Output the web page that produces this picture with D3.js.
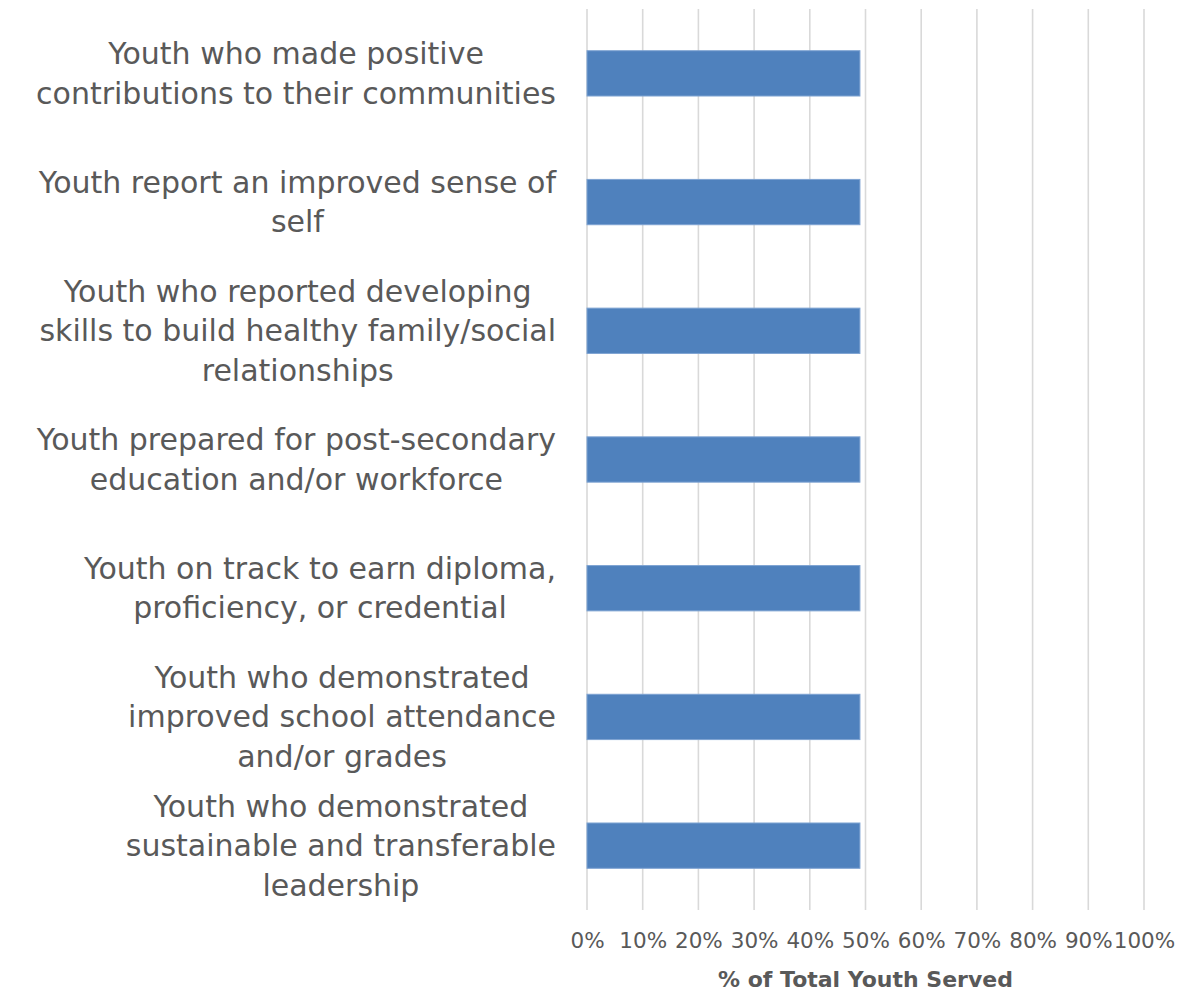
<!DOCTYPE html>
<html>
<head>
<meta charset="utf-8">
<script src="https://cdn.jsdelivr.net/npm/d3@7"></script>
<style>
  html, body { margin: 0; padding: 0; background: #fff; }
  svg { display: block; }
</style>
</head>
<body>
<svg id="chart" width="1180" height="994"></svg>
<script>
// Outcome categories (top to bottom), each pre-wrapped into display lines
const categories = [
  ["Youth who made positive", "contributions to their communities"],
  ["Youth report an improved sense of", "self"],
  ["Youth who reported developing", "skills to build healthy family/social", "relationships"],
  ["Youth prepared for post-secondary", "education and/or workforce"],
  ["Youth on track to earn diploma,", "proficiency, or credential"],
  ["Youth who demonstrated", "improved school attendance", "and/or grades"],
  ["Youth who demonstrated", "sustainable and transferable", "leadership"]
];
// Share of total youth served for each outcome
const values = [0.49, 0.49, 0.49, 0.49, 0.49, 0.49, 0.49];
const tickValues = [0, 0.1, 0.2, 0.3, 0.4, 0.5, 0.6, 0.7, 0.8, 0.9, 1.0];
const axisTitle = "% of Total Youth Served";

const FONT = "'Century Gothic', 'DejaVu Sans', sans-serif";
const TEXT = "#595959";

const svg = d3.select("#chart");
const plot = { left: 587, right: 1144, top: 9, bottom: 910 };

const x = d3.scaleLinear().domain([0, 1]).range([plot.left, plot.right]);
const y = d3.scaleBand()
  .domain(d3.range(categories.length))
  .range([plot.top, plot.bottom])
  .paddingInner(0.648)
  .paddingOuter(0.324);

// Vertical gridlines
svg.append("g")
  .selectAll("line")
  .data(tickValues)
  .join("line")
  .attr("x1", d => x(d)).attr("x2", d => x(d))
  .attr("y1", plot.top).attr("y2", plot.bottom)
  .attr("stroke", "#d9d9d9")
  .attr("stroke-width", 1.6);

// Bars
svg.append("g")
  .selectAll("rect")
  .data(values)
  .join("rect")
  .attr("x", x(0))
  .attr("y", (d, i) => y(i))
  .attr("width", d => x(d) - x(0))
  .attr("height", y.bandwidth())
  .attr("fill", "#4f81bd")
  .attr("stroke", "#7ea3d2")
  .attr("stroke-width", 1);

// X axis tick labels
const xAxis = d3.axisBottom(x)
  .tickValues(tickValues)
  .tickFormat(d3.format(".0%"))
  .tickSize(0)
  .tickPadding(0);
const gx = svg.append("g")
  .attr("transform", `translate(0, 948)`)
  .call(xAxis);
gx.select(".domain").remove();
gx.selectAll("text")
  .attr("y", 0)
  .attr("dy", 0)
  .attr("font-family", FONT)
  .attr("font-size", 21.5)
  .attr("fill", TEXT);

// Axis title
svg.append("text")
  .attr("x", (plot.left + plot.right) / 2)
  .attr("y", 987)
  .attr("text-anchor", "middle")
  .attr("font-family", FONT)
  .attr("font-size", 22)
  .attr("font-weight", "bold")
  .attr("fill", TEXT)
  .text(axisTitle);

// Category labels: each block is centred, with its widest line ending at the label edge
const labelRight = 556;
const lineH = 39.5;
const labels = svg.append("g");
categories.forEach((lines, i) => {
  const cy = y(i) + y.bandwidth() / 2;
  const g = labels.append("g");
  const texts = lines.map((s, k) => g.append("text")
    .attr("y", cy + (k - (lines.length - 1) / 2) * lineH)
    .attr("dy", "0.35em")
    .attr("text-anchor", "middle")
    .attr("font-family", FONT)
    .attr("font-size", 30)
    .attr("fill", TEXT)
    .text(s));
  const maxW = d3.max(texts, t => t.node().getComputedTextLength());
  texts.forEach(t => t.attr("x", labelRight - maxW / 2));
});
</script>
</body>
</html>
